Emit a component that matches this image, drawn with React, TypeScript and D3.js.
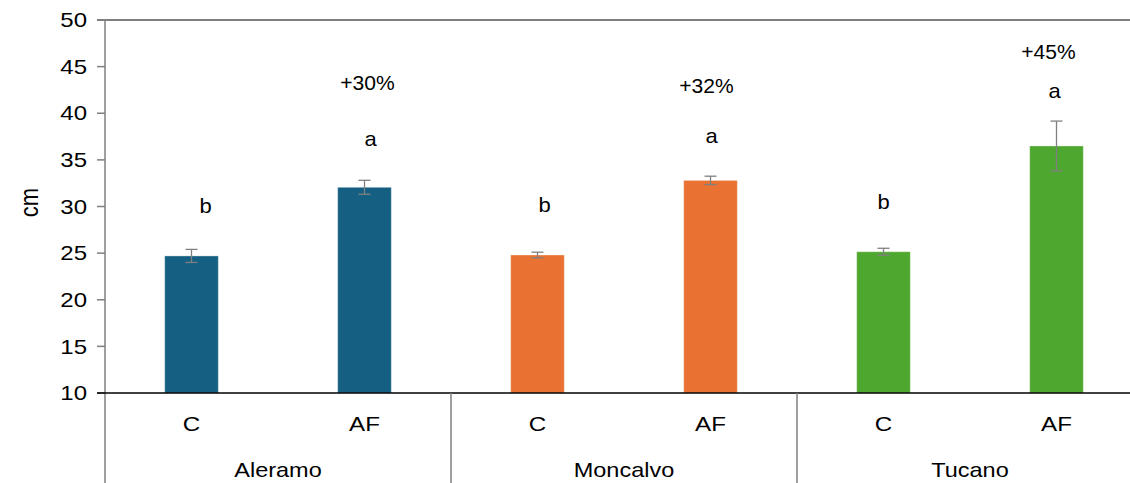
import React from "react";
import * as d3 from "d3";

// Plant height (cm) per variety, control (C) vs agroforestry (AF)
const varieties = ["Aleramo", "Moncalvo", "Tucano"];
const treatments = ["C", "AF"];
const heightC = [24.7, 24.8, 25.15];
const heightAF = [32.06, 32.8, 36.49];
const errC = [0.7, 0.3, 0.37];
const errAF = [0.75, 0.45, 2.67];
const lettersC = ["b", "b", "b"];
const lettersAF = ["a", "a", "a"];
const gains = ["+30%", "+32%", "+45%"];
const yTicks = [10, 15, 20, 25, 30, 35, 40, 45, 50];

const colors = ["#156082", "#E97132", "#4EA72E"];

// Label anchors (cm) for the significance letters and gain annotations
const letterLevelC = [29.35, 29.45, 29.7];
const letterLevelAF = [36.5, 36.8, 41.6];
const gainLevel = [42.5, 42.2, 45.8];
const letterShiftC = [14, 7, 0];
const letterShiftAF = [6, 1, -2];
const gainShift = [3, -4, -8];

const W = 1130;
const H = 483;
const left = 105;
const groupW = 346;
const top = 20;
const axisY = 393;
const font = "'Liberation Sans', Arial, sans-serif";

// Text drawn with a slight horizontal stretch
function Label({
  x,
  y,
  anchor = "middle",
  size = 20,
  sx = 1.15,
  dy,
  children,
}: {
  x: number;
  y: number;
  anchor?: string;
  size?: number;
  sx?: number;
  dy?: string;
  children: React.ReactNode;
}) {
  return (
    <text
      transform={`translate(${x},${y}) scale(${sx},1)`}
      textAnchor={anchor}
      dy={dy}
      fontSize={size}
      fill="#000"
    >
      {children}
    </text>
  );
}

export default function App() {
  const x0 = d3
    .scaleBand<string>()
    .domain(varieties)
    .range([left, left + groupW * varieties.length]);
  const x1 = d3
    .scaleBand<string>()
    .domain(treatments)
    .range([0, x0.bandwidth()])
    .paddingInner(0.69)
    .paddingOuter(0.345);
  const y = d3.scaleLinear().domain([10, 50]).range([axisY, top]);

  const rows = varieties.flatMap((v, i) => [
    { v, i, t: "C", val: heightC[i], err: errC[i], letter: lettersC[i], lv: letterLevelC[i], dx: letterShiftC[i] },
    { v, i, t: "AF", val: heightAF[i], err: errAF[i], letter: lettersAF[i], lv: letterLevelAF[i], dx: letterShiftAF[i] },
  ]);

  return (
    <svg
      width={W}
      height={H}
      style={{ position: "absolute", left: 0, top: 0, background: "#fff" }}
      fontFamily={font}
    >
      {/* plot frame: top border and y axis */}
      <line x1={97} x2={W} y1={top} y2={top} stroke="#7f7f7f" strokeWidth={2} />
      <line x1={left} x2={left} y1={top} y2={H} stroke="#7f7f7f" strokeWidth={1.5} />
      {yTicks.map((t) => (
        <g key={t}>
          <line x1={97} x2={left} y1={y(t)} y2={y(t)} stroke="#7f7f7f" strokeWidth={1.5} />
          <Label x={87} y={y(t)} dy="0.36em" anchor="end" size={20} sx={1.2}>
            {t}
          </Label>
        </g>
      ))}
      <text
        transform={`translate(30,${(top + axisY) / 2 - 4}) scale(1.15,1) rotate(-90)`}
        textAnchor="middle"
        dy="0.3em"
        fontSize={22}
        fill="#000"
      >
        cm
      </text>

      {/* bars with error bars */}
      {rows.map((r) => {
        const bx = (x0(r.v) ?? 0) + (x1(r.t) ?? 0);
        const bw = x1.bandwidth();
        const cx = bx + bw / 2;
        return (
          <g key={r.v + r.t}>
            <rect
              x={bx}
              y={y(r.val)}
              width={bw}
              height={axisY - y(r.val)}
              fill={colors[r.i]}
              stroke="#ffffff"
              strokeOpacity={0.35}
              strokeWidth={1}
            />
            <line x1={cx} x2={cx} y1={y(r.val + r.err)} y2={y(r.val - r.err)} stroke="#808080" strokeWidth={1.3} />
            <line x1={cx - 6} x2={cx + 6} y1={y(r.val + r.err)} y2={y(r.val + r.err)} stroke="#808080" strokeWidth={1.3} />
            <line x1={cx - 6} x2={cx + 6} y1={y(r.val - r.err)} y2={y(r.val - r.err)} stroke="#808080" strokeWidth={1.3} />
            <Label x={cx + r.dx} y={y(r.lv)} size={20} sx={1.1}>
              {r.letter}
            </Label>
            <Label x={cx} y={axisY + 30} dy="0.36em" size={21} sx={1.15}>
              {r.t}
            </Label>
          </g>
        );
      })}

      {/* gain annotations above AF bars */}
      {varieties.map((v, i) => {
        const cx = (x0(v) ?? 0) + (x1("AF") ?? 0) + x1.bandwidth() / 2;
        return (
          <Label key={v} x={cx + gainShift[i]} y={y(gainLevel[i])} size={19.5} sx={1.08}>
            {gains[i]}
          </Label>
        );
      })}

      {/* x axis and group separators */}
      <line x1={97} x2={W} y1={axisY} y2={axisY} stroke="#000" strokeWidth={1.5} />
      {varieties.slice(1).map((v) => (
        <line key={v} x1={x0(v) ?? 0} x2={x0(v) ?? 0} y1={axisY} y2={H} stroke="#7f7f7f" strokeWidth={1.5} />
      ))}
      {varieties.map((v) => (
        <Label key={v} x={(x0(v) ?? 0) + x0.bandwidth() / 2} y={axisY + 76} dy="0.36em" size={21} sx={1.12}>
          {v}
        </Label>
      ))}
    </svg>
  );
}
